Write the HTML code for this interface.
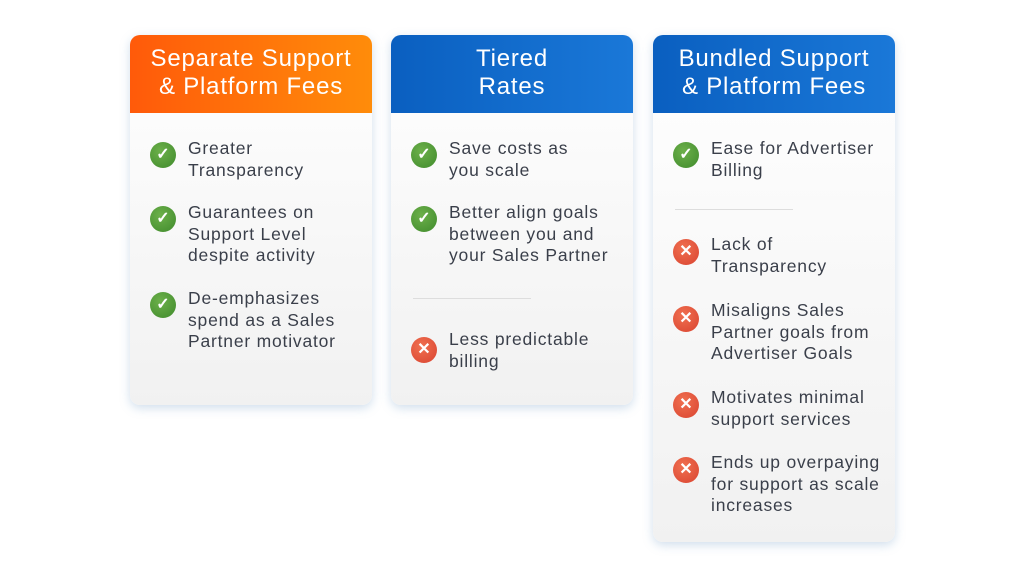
<!DOCTYPE html>
<html><head><style>
body{margin:0;width:1024px;height:576px;background:#fff;position:relative;overflow:hidden;font-family:"Liberation Sans",sans-serif}
.card{position:absolute;width:242px;border-radius:10px;background:linear-gradient(#fff,#f1f1f1);box-shadow:0 3px 10px rgba(120,160,200,.35);overflow:hidden}
.hd{height:78px;color:#fff;font-size:24px;letter-spacing:0.8px;line-height:28px;text-align:center;padding-top:10px;box-sizing:border-box;white-space:nowrap}
.it{position:absolute;font-size:17.5px;letter-spacing:0.8px;line-height:21.5px;color:#3a3f4a;white-space:nowrap}
.ic{position:absolute;width:26px;height:26px;border-radius:50%;color:#fff;font-size:16px;font-weight:bold;text-align:center;line-height:26px}
.ok{background:radial-gradient(circle at 40% 35%,#6cb04a,#3f8a2c)}
.no{background:radial-gradient(circle at 40% 35%,#f07050,#d94330)}
.hr{position:absolute;height:1px;width:118px;background:#ddd}
</style></head><body>
<div class="card" style="left:130px;top:35px;height:370px"><div class="hd" style="background:linear-gradient(90deg,#ff5a0a,#ff8c0a)">Separate Support<br>&amp; Platform Fees</div></div>
<div class="card" style="left:391px;top:35px;height:370px"><div class="hd" style="background:linear-gradient(90deg,#0a5fc0,#1a78d8)">Tiered<br>Rates</div></div>
<div class="card" style="left:653px;top:35px;height:507px"><div class="hd" style="background:linear-gradient(90deg,#0a5fc0,#1a78d8)">Bundled Support<br>&amp; Platform Fees</div></div>

<div class="ic ok" style="left:150px;top:142px">✓</div><div class="it" style="left:188px;top:138px">Greater<br>Transparency</div>
<div class="ic ok" style="left:150px;top:206px">✓</div><div class="it" style="left:188px;top:202px">Guarantees on<br>Support Level<br>despite activity</div>
<div class="ic ok" style="left:150px;top:292px">✓</div><div class="it" style="left:188px;top:288px">De-emphasizes<br>spend as a Sales<br>Partner motivator</div>

<div class="ic ok" style="left:411px;top:142px">✓</div><div class="it" style="left:449px;top:138px">Save costs as<br>you scale</div>
<div class="ic ok" style="left:411px;top:206px">✓</div><div class="it" style="left:449px;top:202px">Better align goals<br>between you and<br>your Sales Partner</div>
<div class="hr" style="left:413px;top:298px"></div>
<div class="ic no" style="left:411px;top:337px">✕</div><div class="it" style="left:449px;top:329px">Less predictable<br>billing</div>

<div class="ic ok" style="left:673px;top:142px">✓</div><div class="it" style="left:711px;top:138px">Ease for Advertiser<br>Billing</div>
<div class="hr" style="left:675px;top:209px"></div>
<div class="ic no" style="left:673px;top:239px">✕</div><div class="it" style="left:711px;top:234px">Lack of<br>Transparency</div>
<div class="ic no" style="left:673px;top:306px">✕</div><div class="it" style="left:711px;top:300px">Misaligns Sales<br>Partner goals from<br>Advertiser Goals</div>
<div class="ic no" style="left:673px;top:392px">✕</div><div class="it" style="left:711px;top:387px">Motivates minimal<br>support services</div>
<div class="ic no" style="left:673px;top:457px">✕</div><div class="it" style="left:711px;top:452px">Ends up overpaying<br>for support as scale<br>increases</div>
</body></html>
